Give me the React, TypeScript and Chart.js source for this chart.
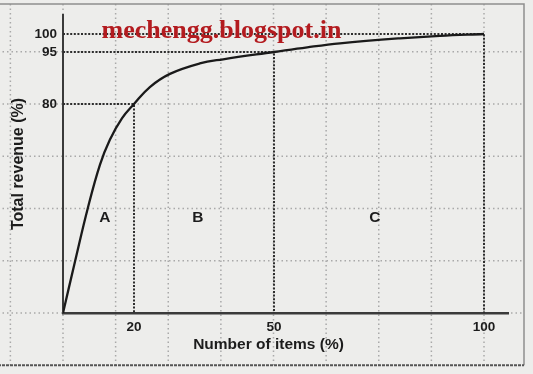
import React, { useEffect, useRef } from 'react';
import { Chart, registerables, LinearScale } from 'chart.js';

// ---------- data ----------
const CURVE_X = [0, 3.4, 7.0, 10.4, 13.2, 16.6, 20, 23.4, 27.7, 34.1, 39.1, 50, 57.9, 65.7, 80, 89.5, 100];
const CURVE_Y = [0, 19.8, 40.2, 56.7, 66.3, 74.5, 80, 84.9, 88.7, 91.7, 92.9, 95, 96.3, 97.4, 98.8, 99.5, 100];

// reference (cut-off) lines: items % -> revenue %
const CUT_ITEMS = [20, 50, 100];
const CUT_REVENUE = [80, 95, 100];

const X_TICKS = [20, 50, 100];
const Y_TICKS = [80, 95, 100];

const ZONE_LABELS = ['A', 'B', 'C'];
const ZONE_X = [11.8, 33.7, 74];
const ZONE_Y = [36.5, 36.5, 36.5];

const WATERMARK = 'mechengg.blogspot.in';
const X_TITLE = 'Number of items (%)';
const Y_TITLE = 'Total revenue (%)';

// ---------- schematic (piecewise) axis calibration ----------
const X_MAX = 105.7;
const Y_MAX = 105.3;
const SCALE_BREAKS: Record<string, { values: number[]; fractions: number[] }> = {
  x: { values: [0, 20, 50, 100, X_MAX], fractions: [0, 71 / 445, 211 / 445, 421 / 445, 1] },
  y: { values: [0, 80, 95, 100, Y_MAX], fractions: [0, 209 / 298, 261 / 298, 279 / 298, 1] },
};

class PiecewiseScale extends LinearScale {
  static id = 'piecewise';
  toDecimal(v: number): number {
    const { values, fractions } = SCALE_BREAKS[(this as any).id];
    const n = values.length;
    let i = 1;
    while (i < n - 1 && v > values[i]) i++;
    const t = (v - values[i - 1]) / (values[i] - values[i - 1]);
    return fractions[i - 1] + t * (fractions[i] - fractions[i - 1]);
  }
  fromDecimal(d: number): number {
    const { values, fractions } = SCALE_BREAKS[(this as any).id];
    const n = values.length;
    let i = 1;
    while (i < n - 1 && d > fractions[i]) i++;
    const t = (d - fractions[i - 1]) / (fractions[i] - fractions[i - 1]);
    return values[i - 1] + t * (values[i] - values[i - 1]);
  }
  getPixelForValue(value: any) {
    if (value === null || value === undefined || isNaN(value)) return NaN;
    return (this as any).getPixelForDecimal(this.toDecimal(+value));
  }
  getValueForPixel(pixel: number) {
    return this.fromDecimal((this as any).getDecimalForPixel(pixel));
  }
}

Chart.register(...registerables, PiecewiseScale as any);

const FONT_FAMILY = '"Liberation Sans", Arial, sans-serif';
const INK = '#1c1c1c';

const paperPlugin = {
  id: 'paper',
  beforeDraw(chart: any) {
    const { ctx, scales } = chart;
    const x = scales.x, y = scales.y;
    ctx.save();
    ctx.fillStyle = '#ededeb';
    ctx.fillRect(0, 0, chart.width, chart.height);
    const x0 = x.getPixelForValue(0), x100 = x.getPixelForValue(100);
    const y0 = y.getPixelForValue(0), y80 = y.getPixelForValue(80);
    const sx = (x100 - x0) / 8;
    const sy = (y0 - y80) / 4;
    const fl = -2, ft = 4, fr = 524, fb = y0 + sy;
    ctx.strokeStyle = '#a9a9a9';
    ctx.lineWidth = 1.5;
    ctx.setLineDash([1.5, 3]);
    for (let k = -2; k <= 10; k++) {
      const px = x0 + k * sx;
      if (px > fl + 2 && px < fr - 2) {
        ctx.beginPath(); ctx.moveTo(px, ft); ctx.lineTo(px, fb); ctx.stroke();
      }
    }
    for (let k = -1; k <= 8; k++) {
      const py = y0 - k * sy;
      if (py > ft + 2 && py < fb - 2) {
        ctx.beginPath(); ctx.moveTo(fl, py); ctx.lineTo(fr, py); ctx.stroke();
      }
    }
    ctx.setLineDash([]);
    ctx.strokeStyle = '#8e8e8e';
    ctx.lineWidth = 1.5;
    ctx.beginPath();
    ctx.moveTo(fl, ft); ctx.lineTo(fr, ft); ctx.lineTo(fr, fb);
    ctx.stroke();
    ctx.strokeStyle = '#555555';
    ctx.lineWidth = 2;
    ctx.setLineDash([3, 1]);
    ctx.beginPath();
    ctx.moveTo(fl, fb); ctx.lineTo(fr, fb);
    ctx.stroke();
    ctx.restore();
  },
  afterDraw(chart: any) {
    const { ctx, scales } = chart;
    const x = scales.x, y = scales.y;
    ctx.save();
    ctx.fillStyle = INK;
    ctx.textAlign = 'center';
    ctx.textBaseline = 'middle';
    ctx.font = `bold 15.5px ${FONT_FAMILY}`;
    ZONE_LABELS.forEach((t, i) => {
      ctx.fillText(t, x.getPixelForValue(ZONE_X[i]), y.getPixelForValue(ZONE_Y[i]));
    });
    ctx.fillText(X_TITLE, (x.getPixelForValue(0) + x.getPixelForValue(100)) / 2 - 5, 345);
    ctx.fillStyle = '#b31b1f';
    ctx.textBaseline = 'alphabetic';
    ctx.font = 'bold 26px "Liberation Serif", "Times New Roman", serif';
    ctx.fillText(WATERMARK, 221.5, 38);
    ctx.restore();
  },
};

const refDataset = (i: number) => ({
  type: 'line' as const,
  data: [
    { x: 0, y: CUT_REVENUE[i] },
    { x: CUT_ITEMS[i], y: CUT_REVENUE[i] },
    { x: CUT_ITEMS[i], y: 0 },
  ],
  borderColor: '#2e2e2e',
  borderWidth: 2,
  borderDash: [2, 1.6],
  pointRadius: 0,
  tension: 0,
  fill: false,
});

export default function App() {
  const ref = useRef<HTMLCanvasElement>(null);
  useEffect(() => {
    document.body.style.margin = '0';
    const chart = new Chart(ref.current as HTMLCanvasElement, {
      type: 'line',
      data: {
        datasets: [
          {
            data: CURVE_X.map((v, i) => ({ x: v, y: CURVE_Y[i] })),
            borderColor: '#1a1a1a',
            borderWidth: 2.3,
            pointRadius: 0,
            tension: 0.4,
            fill: false,
          },
          refDataset(0),
          refDataset(1),
          refDataset(2),
        ] as any,
      },
      options: {
        responsive: false,
        maintainAspectRatio: false,
        animation: false,
        devicePixelRatio: 1,
        layout: { padding: { top: 15, right: 25, left: 0, bottom: 0 } },
        plugins: { legend: { display: false }, tooltip: { enabled: false }, title: { display: false } },
        scales: {
          x: {
            type: 'piecewise' as any,
            position: 'bottom',
            min: 0,
            max: X_MAX,
            grid: { display: false, drawTicks: false },
            border: { display: true, color: '#3a3a3a', width: 2.5 },
            ticks: {
              autoSkip: false,
              maxRotation: 0,
              padding: 6,
              color: INK,
              font: { family: FONT_FAMILY, size: 13.5, weight: 'bold' },
              callback: (v: any) => String(v),
            },
            afterBuildTicks: (s: any) => { s.ticks = X_TICKS.map((v) => ({ value: v })); },
            afterFit: (s: any) => {
              s.height = 61;
              s.paddingLeft = 0; s.paddingRight = 0; s.paddingTop = 0; s.paddingBottom = 0;
            },
          },
          y: {
            type: 'piecewise' as any,
            position: 'left',
            min: 0,
            max: Y_MAX,
            grid: { display: false, drawTicks: false },
            border: { display: true, color: '#3a3a3a', width: 2, dash: [3, 1] },
            ticks: {
              autoSkip: false,
              padding: 6,
              color: INK,
              font: { family: FONT_FAMILY, size: 13.5, weight: 'bold' },
              callback: (v: any) => String(v),
            },
            title: {
              display: true,
              text: Y_TITLE,
              color: INK,
              font: { family: FONT_FAMILY, size: 16, weight: 'bold' },
              padding: { top: 9, bottom: 0 },
            },
            afterBuildTicks: (s: any) => { s.ticks = Y_TICKS.map((v) => ({ value: v })); },
            afterFit: (s: any) => {
              s.width = 63;
              s.paddingLeft = 0; s.paddingRight = 0; s.paddingTop = 0; s.paddingBottom = 0;
            },
          },
        },
      } as any,
      plugins: [paperPlugin],
    });
    return () => chart.destroy();
  }, []);
  return (
    <div style={{ width: 533, height: 374 }}>
      <canvas ref={ref} width={533} height={374} style={{ display: 'block', width: 533, height: 374 }} />
    </div>
  );
}
